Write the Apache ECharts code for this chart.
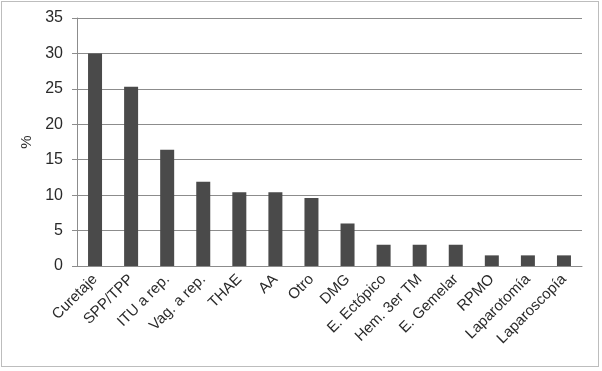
<!DOCTYPE html>
<html><head><meta charset="utf-8">
<script src="https://cdn.jsdelivr.net/npm/echarts@6/dist/echarts.min.js"></script>
<style>html,body{margin:0;padding:0;background:#fff}#c{width:602px;height:371px}
#frame{position:absolute;left:1px;top:1px;width:598px;height:366px;border:1px solid #bdbdbd;box-sizing:border-box;pointer-events:none}</style>
</head><body><div id="c"></div><div id="frame"></div>
<script>
const categories = ["Curetaje","SPP/TPP","ITU a rep.","Vag. a rep.","THAE","AA","Otro","DMG","E. Ectópico","Hem. 3er TM","E. Gemelar","RPMO","Laparotomía","Laparoscopía"];
const values = [30.0, 25.3, 16.4, 11.9, 10.4, 10.4, 9.6, 6.0, 3.0, 3.0, 3.0, 1.5, 1.5, 1.5];
const yTicks = {min: 0, max: 35, interval: 5};
const yName = "%";

const chart = echarts.init(document.getElementById('c'));
chart.setOption({
  animation: false,
  grid: {left: 77, right: 20, top: 18, bottom: 105},
  xAxis: {
    type: 'category', data: categories,
    axisLine: {lineStyle: {color: '#8c8c8c', width: 1}},
    axisTick: {show: false},
    axisLabel: {rotate: 45, interval: 0, fontFamily: 'Liberation Sans, Arial', fontSize: 15, color: '#2a2a2a', margin: 11}
  },
  yAxis: {
    type: 'value', min: yTicks.min, max: yTicks.max, interval: yTicks.interval,
    name: yName, nameLocation: 'middle', nameGap: 41, nameRotate: 90,
    nameTextStyle: {fontFamily: 'Liberation Sans, Arial', fontSize: 15, color: '#2a2a2a'},
    axisLine: {show: true, lineStyle: {color: '#8c8c8c'}},
    axisTick: {show: true, length: 5, lineStyle: {color: '#8c8c8c'}},
    axisLabel: {fontFamily: 'Liberation Sans, Arial', fontSize: 16, color: '#2a2a2a', margin: 14},
    splitLine: {lineStyle: {color: '#8c8c8c', width: 1}}
  },
  series: [{
    type: 'bar', data: values, barWidth: 14,
    itemStyle: {color: '#4a4a4a'}
  }]
});
</script></body></html>
